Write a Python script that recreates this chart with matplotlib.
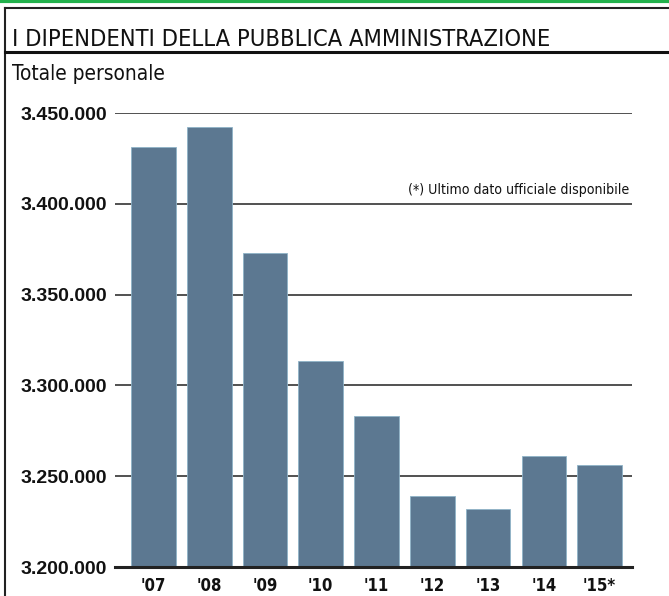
import matplotlib.pyplot as plt
from matplotlib.lines import Line2D
from matplotlib.ticker import FuncFormatter

# Totale personale della PA, 2007-2015
anni = ["'07", "'08", "'09", "'10", "'11", "'12", "'13", "'14", "'15*"]
dipendenti = [3431300, 3442300, 3373100, 3313200, 3283000, 3239000, 3231900, 3261000, 3256000]
y_ticks = [3200000, 3250000, 3300000, 3350000, 3400000, 3450000]

W, H = 669, 596
fig = plt.figure(figsize=(W / 100, H / 100), dpi=100)
fig.patch.set_facecolor("white")
renderer = fig.canvas.get_renderer()

def px(x, y):
    return x / W, 1 - y / H

def fit_width(t, width_px):
    # shrink/grow the font so the text covers the same width as in the print
    w = t.get_window_extent(renderer).width
    t.set_fontsize(t.get_fontsize() * width_px / w)

# frame of the newspaper box
fig.add_artist(Line2D([0, 1], [1 - 1 / H] * 2, color="#22b14c", lw=3))
fig.add_artist(Line2D([5 / W, 1], [1 - 8 / H] * 2, color="#222222", lw=1.5))
fig.add_artist(Line2D([5 / W, 5 / W], [0, 1 - 8 / H], color="#222222", lw=1.5))
fig.add_artist(Line2D([5 / W, 1], [1 - 52 / H] * 2, color="#111111", lw=2.2))

narrow = ["DejaVu Sans"]
title = fig.text(*px(12, 46), "I DIPENDENTI DELLA PUBBLICA AMMINISTRAZIONE",
                 family=narrow, fontstretch="condensed", fontsize=20,
                 va="baseline", ha="left", color="#111111")
fit_width(title, 536)
sub = fig.text(*px(12, 80), "Totale personale",
               family=narrow, fontstretch="condensed", fontsize=13,
               va="baseline", ha="left", color="#111111")
fit_width(sub, 153)

ax = fig.add_axes([115 / W, 1 - 567 / H, (632 - 115) / W, (567 - 113) / H])
x = range(len(anni))
ax.bar(x, dipendenti, width=0.8, color="#5c7891", edgecolor="#8fb3c8",
       linewidth=0.6, zorder=3)

ax.set_ylim(y_ticks[0], y_ticks[-1])
ax.set_xlim(-0.69, len(anni) - 1 + 0.58)
ax.set_yticks(y_ticks)
ax.yaxis.set_major_formatter(FuncFormatter(lambda v, p: f"{int(v):,}".replace(",", ".")))
ax.set_xticks(list(x))
ax.set_xticklabels(anni)

for v in y_ticks[1:]:
    ax.axhline(v, color="#333333", lw=1.2, zorder=1)
ax.axhline(y_ticks[0], color="#222222", lw=2.2, zorder=4, clip_on=False)

for s in ax.spines.values():
    s.set_visible(False)
ax.tick_params(axis="both", length=0)
ax.tick_params(axis="y", pad=6)
ax.tick_params(axis="x", pad=7)
for lab in ax.get_yticklabels():
    lab.set_fontfamily(["Liberation Sans", "DejaVu Sans"])
    lab.set_fontweight("bold")
    lab.set_fontsize(14)
    lab.set_color("#111111")
for lab in ax.get_xticklabels():
    lab.set_fontfamily(narrow)
    lab.set_fontstretch("condensed")
    lab.set_fontweight("bold")
    lab.set_fontsize(12)
    lab.set_color("#111111")

note = ax.text(0.995, 3404000, "(*) Ultimo dato ufficiale disponibile",
               transform=ax.get_yaxis_transform(), ha="right", va="bottom",
               family=narrow, fontstretch="condensed", fontsize=11,
               color="#111111")
fit_width(note, 220)

fig.savefig("out.png", dpi=100)
